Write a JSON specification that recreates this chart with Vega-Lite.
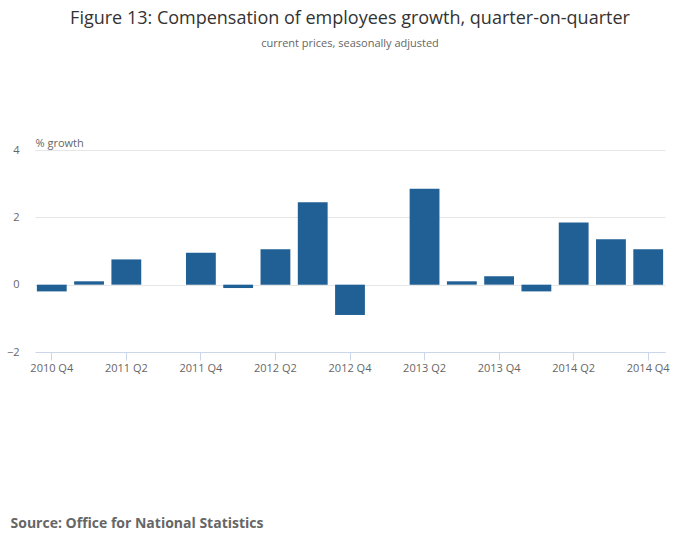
{
  "$schema": "https://vega.github.io/schema/vega-lite/v6.json",
  "width": 630,
  "height": 202,
  "autosize": "none",
  "padding": {"left": 35, "top": 150, "right": 35, "bottom": 197},
  "background": "white",
  "title": {
    "text": "Figure 13: Compensation of employees growth, quarter-on-quarter",
    "subtitle": "current prices, seasonally adjusted",
    "fontSize": 18,
    "fontWeight": "normal",
    "font": "Open Sans",
    "color": "#333333",
    "subtitleFont": "Open Sans",
    "subtitleFontSize": 11,
    "subtitleColor": "#666666",
    "subtitlePadding": 10,
    "anchor": "middle",
    "offset": 88
  },
  "data": {
    "values": [
      {"q": "2010 Q4", "v": -0.2},
      {"q": "2011 Q1", "v": 0.1},
      {"q": "2011 Q2", "v": 0.75},
      {"q": "2011 Q3", "v": 0},
      {"q": "2011 Q4", "v": 0.95},
      {"q": "2012 Q1", "v": -0.1},
      {"q": "2012 Q2", "v": 1.05},
      {"q": "2012 Q3", "v": 2.45},
      {"q": "2012 Q4", "v": -0.9},
      {"q": "2013 Q1", "v": 0},
      {"q": "2013 Q2", "v": 2.85},
      {"q": "2013 Q3", "v": 0.1},
      {"q": "2013 Q4", "v": 0.25},
      {"q": "2014 Q1", "v": -0.2},
      {"q": "2014 Q2", "v": 1.85},
      {"q": "2014 Q3", "v": 1.35},
      {"q": "2014 Q4", "v": 1.05}
    ]
  },
  "mark": {"type": "bar", "color": "#206095"},
  "encoding": {
    "x": {
      "field": "q",
      "type": "ordinal",
      "sort": null,
      "scale": {"paddingInner": 0.2, "paddingOuter": 0.05},
      "axis": {
        "values": ["2010 Q4", "2011 Q2", "2011 Q4", "2012 Q2", "2012 Q4", "2013 Q2", "2013 Q4", "2014 Q2", "2014 Q4"],
        "labelAngle": 0,
        "labelFont": "Open Sans",
        "labelFontSize": 11,
        "labelColor": "#666666",
        "domainColor": "#ccd6eb",
        "tickColor": "#ccd6eb",
        "tickSize": 8,
        "labelPadding": 2,
        "title": "Source: Office for National Statistics",
        "titleFont": "Open Sans",
        "titleFontSize": 14,
        "titleFontWeight": "bold",
        "titleColor": "#666666",
        "titleAnchor": "start",
        "titleAlign": "left",
        "titleBaseline": "alphabetic",
        "titleX": -25,
        "titleY": 175
      }
    },
    "y": {
      "field": "v",
      "type": "quantitative",
      "scale": {"domain": [-2, 4]},
      "axis": {
        "values": [-2, 0, 2, 4],
        "domain": false,
        "ticks": false,
        "gridColor": "#e6e6e6",
        "labelFont": "Open Sans",
        "labelFontSize": 11,
        "labelColor": "#666666",
        "labelPadding": 16,
        "title": "% growth",
        "titleFont": "Open Sans",
        "titleFontSize": 11,
        "titleFontWeight": "normal",
        "titleColor": "#666666",
        "titleAngle": 0,
        "titleAlign": "left",
        "titleBaseline": "bottom",
        "titleX": 0,
        "titleY": -2
      }
    }
  },
  "config": {"view": {"stroke": null}}
}
